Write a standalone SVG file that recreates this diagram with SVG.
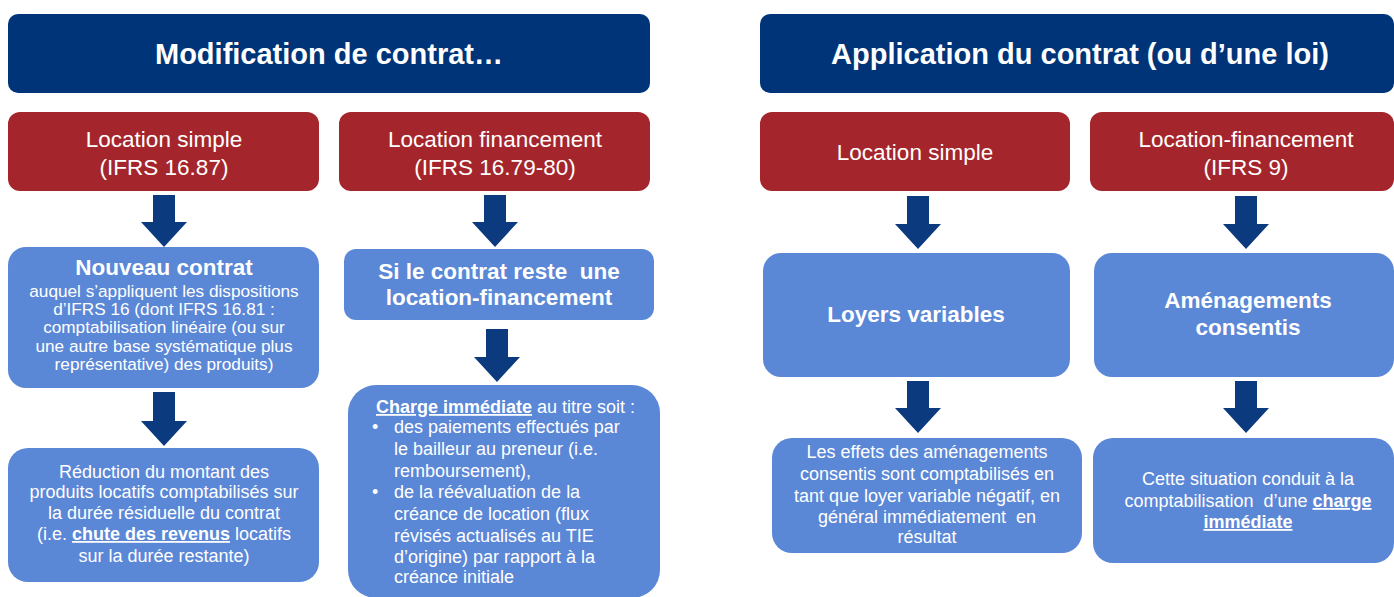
<svg xmlns="http://www.w3.org/2000/svg" width="1394" height="597" viewBox="0 0 1394 597">
  <defs>
    <style>
      text { font-family: "Liberation Sans", Arial, sans-serif; fill: #ffffff; }
      .hdr { fill: #003478; }
      .cat { fill: #a4262c; }
      .box { fill: #5b87d7; }
      .arrow { fill: #0b3a7e; }
      .h1 { font-size: 29px; font-weight: bold; text-anchor: middle; }
      .h2 { font-size: 22.5px; text-anchor: middle; }
      .h3 { font-size: 22.5px; font-weight: bold; text-anchor: middle; }
      .body { font-size: 18px; }
      .small { font-size: 17.2px; text-anchor: middle; }
      .mid { text-anchor: middle; }
      .em { font-weight: bold; text-decoration: underline; }
      .pre { white-space: pre; }
    </style>
  </defs>

  <!-- Left block: contract modification -->
  <g id="header-modification">
    <rect class="hdr" x="8" y="14" width="642" height="79" rx="10"/>
    <text class="h1" x="329" y="64">Modification de contrat…</text>
  </g>

  <g id="mod-location-simple">
    <rect class="cat" x="8" y="112" width="311" height="79" rx="12"/>
    <text class="h2" x="164" y="147">Location simple</text>
    <text class="h2" x="164" y="175">(IFRS 16.87)</text>
  </g>

  <g id="mod-location-financement">
    <rect class="cat" x="339" y="112" width="311" height="79" rx="12"/>
    <text class="h2" x="495" y="147">Location financement</text>
    <text class="h2" x="495" y="175">(IFRS 16.79-80)</text>
  </g>

  <g id="nouveau-contrat">
    <rect class="box" x="8" y="247" width="311" height="141" rx="18"/>
    <text class="h3" x="164" y="275">Nouveau contrat</text>
    <text class="small" x="164" y="297">auquel s’appliquent les dispositions</text>
    <text class="small" x="164" y="315">d’IFRS 16 (dont IFRS 16.81 :</text>
    <text class="small" x="164" y="333">comptabilisation linéaire (ou sur</text>
    <text class="small" x="164" y="352">une autre base systématique plus</text>
    <text class="small" x="164" y="370">représentative) des produits)</text>
  </g>

  <g id="reduction-produits">
    <rect class="box" x="8" y="448" width="311" height="134" rx="20"/>
    <text class="body mid" x="164" y="478">Réduction du montant des</text>
    <text class="body mid" x="164" y="498">produits locatifs comptabilisés sur</text>
    <text class="body mid" x="164" y="519">la durée résiduelle du contrat</text>
    <text class="body mid" x="164" y="540">(i.e. <tspan class="em">chute des revenus</tspan> locatifs</text>
    <text class="body mid" x="164" y="562">sur la durée restante)</text>
  </g>

  <g id="reste-location-financement">
    <rect class="box" x="344" y="249" width="310" height="71" rx="12"/>
    <text class="h3 pre" x="499" y="279">Si le contrat reste  une</text>
    <text class="h3" x="499" y="305">location-financement</text>
  </g>

  <g id="charge-immediate">
    <rect class="box" x="348" y="385" width="312" height="213" rx="28"/>
    <text class="body" x="376" y="413"><tspan class="em">Charge immédiate</tspan> au titre soit :</text>
    <text class="body" x="372" y="433">•</text>
    <text class="body" x="394" y="433">des paiements effectués par</text>
    <text class="body" x="394" y="455">le bailleur au preneur (i.e.</text>
    <text class="body" x="394" y="477">remboursement),</text>
    <text class="body" x="372" y="498">•</text>
    <text class="body" x="394" y="498">de la réévaluation de la</text>
    <text class="body" x="394" y="520">créance de location (flux</text>
    <text class="body" x="394" y="542">révisés actualisés au TIE</text>
    <text class="body" x="394" y="563">d’origine) par rapport à la</text>
    <text class="body" x="394" y="583">créance initiale</text>
  </g>

  <!-- Right block: application of the contract or of a law -->
  <g id="header-application">
    <rect class="hdr" x="760" y="14" width="634" height="79" rx="10"/>
    <text class="h1" x="1080" y="64">Application du contrat (ou d’une loi)</text>
  </g>

  <g id="app-location-simple">
    <rect class="cat" x="760" y="112" width="310" height="79" rx="12"/>
    <text class="h2" x="915" y="160">Location simple</text>
  </g>

  <g id="app-location-financement">
    <rect class="cat" x="1090" y="112" width="304" height="79" rx="12"/>
    <text class="h2" x="1246" y="147">Location-financement</text>
    <text class="h2" x="1246" y="175">(IFRS 9)</text>
  </g>

  <g id="loyers-variables">
    <rect class="box" x="763" y="253" width="307" height="124" rx="18"/>
    <text class="h3" x="916" y="322">Loyers variables</text>
  </g>

  <g id="amenagements-consentis">
    <rect class="box" x="1094" y="253" width="300" height="124" rx="18"/>
    <text class="h3" x="1248" y="308">Aménagements</text>
    <text class="h3" x="1248" y="335">consentis</text>
  </g>

  <g id="effets-amenagements">
    <rect class="box" x="772" y="438" width="310" height="115" rx="20"/>
    <text class="body mid" x="927" y="458">Les effets des aménagements</text>
    <text class="body mid" x="927" y="480">consentis sont comptabilisés en</text>
    <text class="body mid" x="927" y="502">tant que loyer variable négatif, en</text>
    <text class="body mid pre" x="927" y="523">général immédiatement  en</text>
    <text class="body mid" x="927" y="543">résultat</text>
  </g>

  <g id="charge-immediate-financement">
    <rect class="box" x="1093" y="438" width="301" height="125" rx="20"/>
    <text class="body mid" x="1248" y="485">Cette situation conduit à la</text>
    <text class="body mid pre" x="1248" y="507">comptabilisation  d’une <tspan class="em">charge</tspan></text>
    <text class="body mid" x="1248" y="528"><tspan class="em">immédiate</tspan></text>
  </g>

  <!-- Block arrows between levels -->
  <g id="connectors">
    <polygon class="arrow" points="153,195 175,195 175,222 187,222 164,247 141,222 153,222"/>
    <polygon class="arrow" points="153,392 175,392 175,421 187,421 164,446 141,421 153,421"/>
    <polygon class="arrow" points="484,195 506,195 506,222 518,222 495,247 472,222 484,222"/>
    <polygon class="arrow" points="486,329 508,329 508,357 520,357 497,382 474,357 486,357"/>
    <polygon class="arrow" points="907,196 929,196 929,224 941,224 918,249 895,224 907,224"/>
    <polygon class="arrow" points="907,381 929,381 929,408 941,408 918,433 895,408 907,408"/>
    <polygon class="arrow" points="1235,196 1257,196 1257,224 1269,224 1246,249 1223,224 1235,224"/>
    <polygon class="arrow" points="1235,381 1257,381 1257,408 1269,408 1246,433 1223,408 1235,408"/>
  </g>
</svg>
